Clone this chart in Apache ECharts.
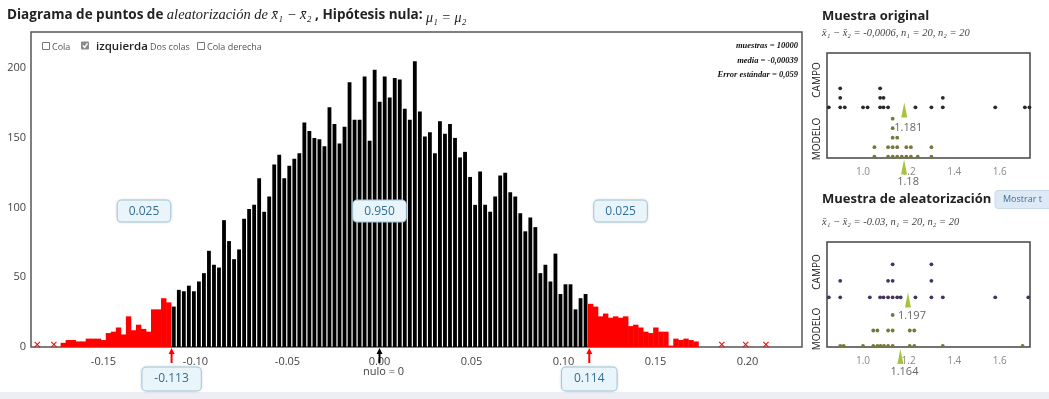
<!DOCTYPE html>
<html><head><meta charset="utf-8">
<script src="https://cdn.jsdelivr.net/npm/echarts@6/dist/echarts.min.js"></script>
<style>html,body{margin:0;padding:0;background:#fff}#c{width:1049px;height:399px}</style>
</head><body><div id="c"></div><script>
// ---------------- data ----------------
const binStart = -0.1118;      // centre of first (black) bin
const binWidth = 0.002729;
// left red tail, bins k=-22..-1
const leftTailCounts = [3,5,5,4,4,6,6,6,5,10,11,14,9,22,12,16,13,11,27,27,35,32];
// middle (black) bins, k=0..82
const middleCounts = [29,41,40,44,40,47,53,69,59,57,
  91,76,63,70,92,99,102,121,97,108,
  131,138,121,130,135,139,161,155,150,149,
  144,172,160,146,158,190,163,163,194,148,
  199,176,194,179,193,192,171,163,205,169,
  151,154,139,162,153,160,150,136,140,122,
  102,126,102,97,108,123,125,111,108,96,
  83,93,86,53,59,47,67,38,45,45,
  27,35,38];
// right red tail, bins k=83..104
const rightTailCounts = [31,29,22,24,21,22,21,22,15,16,14,11,10,14,11,11,1,6,5,6,5,4];
// isolated single values drawn as x marks
const outlierValues = [-0.186,-0.177,0.186,0.199,0.210];

const xTicks = [-0.15,-0.10,-0.05,0.00,0.05,0.10,0.15,0.20];
const yTicks = [0,50,100,150,200];
const cutValues = [-0.113, 0.114];
const cutLabels = ['-0.113','0.114'];
const nullValue = 0;
const regionLabels = ['0.025','0.950','0.025'];
const regionLabelX = [-0.128, 0.0, 0.131];
const statLines = ['muestras = 10000','media = -0,00039','Error estándar = 0,059'];

// dot plots
const dotTicks = [1.0,1.2,1.4,1.6];
const origCampo = [0.85,0.90,0.90,0.90,0.92,1.00,1.02,1.075,1.075,1.075,1.09,1.09,1.11,1.23,1.30,1.35,1.35,1.58,1.71,1.73];
const origModelo = [1.05,1.05,1.11,1.11,1.13,1.13,1.13,1.13,1.13,1.15,1.15,1.15,1.17,1.19,1.19,1.21,1.21,1.24,1.30,1.30];
const origMeans = [1.181, 1.18];   // campo, modelo
const randCampo = [0.85,0.90,0.90,1.03,1.075,1.09,1.11,1.11,1.13,1.13,1.13,1.15,1.165,1.23,1.30,1.30,1.30,1.35,1.58,1.725];
const randModelo = [0.90,0.915,1.00,1.045,1.045,1.063,1.063,1.077,1.092,1.11,1.11,1.13,1.13,1.13,1.205,1.205,1.225,1.225,1.35,1.70];
const randMeans = [1.197, 1.164];

// ---------------- build ----------------
const hist = [];
leftTailCounts.forEach((c,i)=>hist.push([binStart+(i-leftTailCounts.length)*binWidth, c, 1]));
middleCounts.forEach((c,i)=>hist.push([binStart+i*binWidth, c, 0]));
rightTailCounts.forEach((c,i)=>hist.push([binStart+(middleCounts.length+i)*binWidth, c, 1]));

function renderBar(params, api){
  const x = api.value(0), y = api.value(1), red = api.value(2);
  const p0 = api.coord([x - binWidth/2, y]);
  const p1 = api.coord([x + binWidth/2, 0]);
  let l = p0[0], r = p1[0];
  if (red) { l -= 0.2; r += 0.2; } else { l += 0.6; r -= 0.6; }
  return {type:'rect', shape:{x:l, y:p0[1], width:r-l, height:p1[1]-p0[1]},
          style:{fill: red ? '#ff0000' : '#000'}};
}
function stackDots(vals, base, step){
  const seen = {};
  return vals.map(v=>{const k=v.toFixed(3); const l=seen[k]||0; seen[k]=l+1; return [v, base+l*step];});
}
const FONT = 'Open Sans';
const SERIF = 'Liberation Serif';
const XMARK = 'path://M0,1.2 L1.2,0 L5,3.8 L8.8,0 L10,1.2 L6.2,5 L10,8.8 L8.8,10 L5,6.2 L1.2,10 L0,8.8 L3.8,5 Z';
const ARROW = 'path://M3,0 L6,6 L4,6 L4,15 L2,15 L2,6 L0,6 Z';
const HIDE = {color:'transparent', opacity:1};

const boxLabel = (pad)=>({show:true, position:'inside', formatter:p=>p.data[2], color:'#2f6f96', opacity:1,
  fontFamily:FONT, fontSize:12, backgroundColor:'#eaf5fb', borderColor:'#a8cfe4', borderWidth:1,
  borderRadius:4, padding:pad, shadowColor:'rgba(0,0,0,0.12)', shadowBlur:3});

function dotAxes(grid){
  return {
    x: {type:'value', gridIndex:grid, min:0.842, max:1.7325, axisLine:{show:false}, axisTick:{show:false},
        splitLine:{show:false}, axisLabel:{customValues:dotTicks, formatter:v=>v.toFixed(1), color:'#888', fontSize:10, margin:9, fontFamily:FONT}},
    y: {type:'value', gridIndex:grid, min:0, max:105, show:false}
  };
}
const d1 = dotAxes(1), d2 = dotAxes(2);

const meanSeries = (xi, pts, labels) => ([
  {type:'scatter', xAxisIndex:xi, yAxisIndex:xi, clip:false, symbol:'triangle', symbolSize:[6,15],
   itemStyle:{color:'#a6c43a', opacity:1}, data:pts, z:5, silent:true},
  {type:'scatter', xAxisIndex:xi, yAxisIndex:xi, clip:false, symbolSize:1, itemStyle:HIDE,
   data:labels, z:6, silent:true,
   label:{show:true, position:'inside', offset:[4,0], formatter:p=>p.data[2], color:'#666', fontSize:11, fontFamily:FONT}}
]);

const option = {
  animation:false,
  backgroundColor:'#fff',
  grid:[
    {left:31, top:32, width:771, height:315, show:true, borderColor:'#555', borderWidth:1.5},
    {left:827, top:53, width:203, height:105, show:true, borderColor:'#444', borderWidth:1.5},
    {left:827, top:242, width:203, height:105, show:true, borderColor:'#444', borderWidth:1.5}
  ],
  xAxis:[
    {type:'value', gridIndex:0, min:-0.1894, max:0.2296, axisLine:{show:false}, axisTick:{show:false}, splitLine:{show:false},
     axisLabel:{customValues:xTicks, formatter:v=>v.toFixed(2), color:'#444', fontSize:11, margin:9, fontFamily:FONT}},
    d1.x, d2.x
  ],
  yAxis:[
    {type:'value', gridIndex:0, min:0, max:226, axisLine:{show:false}, axisTick:{show:false}, splitLine:{show:false},
     axisLabel:{customValues:yTicks, color:'#444', fontSize:11, margin:5, fontFamily:FONT}},
    d1.y, d2.y
  ],
  series:[
    {type:'custom', xAxisIndex:0, yAxisIndex:0, renderItem:renderBar, data:hist, encode:{x:0,y:1}, silent:true},
    {type:'scatter', xAxisIndex:0, yAxisIndex:0, symbol:XMARK, symbolSize:6, itemStyle:{color:'#ff0000', opacity:1},
     data:outlierValues.map(v=>[v,1.8]), silent:true},
    {type:'scatter', xAxisIndex:0, yAxisIndex:0, clip:false, symbol:ARROW, symbolSize:[6,15], itemStyle:{color:'#ff0000', opacity:1},
     data:cutValues.map(v=>[v,-6.1]), silent:true, z:4},
    {type:'scatter', xAxisIndex:0, yAxisIndex:0, clip:false, symbol:ARROW, symbolSize:[6,15], itemStyle:{color:'#000', opacity:1},
     data:[[nullValue,-6.1]], silent:true, z:4},
    {type:'scatter', xAxisIndex:0, yAxisIndex:0, clip:false, symbolSize:1, itemStyle:HIDE, silent:true, z:6,
     data:cutValues.map((v,i)=>[v,-23,cutLabels[i]]), label:boxLabel([6,12,5,12])},
    {type:'scatter', xAxisIndex:0, yAxisIndex:0, clip:false, symbolSize:1, itemStyle:HIDE, silent:true, z:6,
     data:regionLabelX.map((v,i)=>[v,97.5,regionLabels[i]]), label:boxLabel([5,11,4,11])},
    {type:'scatter', xAxisIndex:0, yAxisIndex:0, clip:false, symbolSize:1, itemStyle:HIDE, silent:true, z:6,
     data:[[nullValue,-18,'nulo = 0']], label:{show:true, position:'inside', offset:[4,0], formatter:p=>p.data[2], color:'#444', fontSize:11, fontFamily:FONT}},
    // original sample dots
    {type:'scatter', xAxisIndex:1, yAxisIndex:1, symbolSize:3.8, itemStyle:{color:'#2a2a2a', opacity:1}, data:stackDots(origCampo,50.7,9.5), silent:true},
    {type:'scatter', xAxisIndex:1, yAxisIndex:1, symbolSize:3.8, itemStyle:{color:'#77773a', opacity:1}, data:stackDots(origModelo,1.3,9.5), silent:true},
    ...meanSeries(1, [[origMeans[0],48],[origMeans[1],-9]], [[origMeans[0],30,'1.181'],[origMeans[1],-24,'1.18']]),
    // randomization sample dots
    {type:'scatter', xAxisIndex:2, yAxisIndex:2, symbolSize:3.8, itemStyle:{color:'#45335f', opacity:1}, data:stackDots(randCampo,49.7,16.5), silent:true},
    {type:'scatter', xAxisIndex:2, yAxisIndex:2, symbolSize:3.8, itemStyle:{color:'#77773a', opacity:1}, data:stackDots(randModelo,1,15.5), silent:true},
    ...meanSeries(2, [[randMeans[0],47],[randMeans[1],-9.5]], [[randMeans[0],31,'1.197'],[randMeans[1],-25,'1.164']])
  ],
  graphic:[
    {type:'rect', shape:{x:0,y:392,width:1049,height:7}, style:{fill:'#eceef3'}, silent:true},
    {type:'text', x:7, y:15, style:{
      text:'{b|Diagrama de puntos de }{i|aleatorización de x̄₁ − x̄₂}{b| , Hipótesis nula: }{s|μ₁ = μ₂}',
      verticalAlign:'middle',
      rich:{
        b:{fontFamily:FONT, fontWeight:'bold', fontSize:13.5, fill:'#222'},
        i:{fontFamily:SERIF, fontStyle:'italic', fontSize:14.5, fill:'#222'},
        s:{fontFamily:SERIF, fontStyle:'italic', fontSize:14, fill:'#222', padding:[6,0,0,0]}
      }}},
    // checkbox row
    {type:'rect', shape:{x:42.5,y:42.5,width:7,height:7}, style:{fill:'#fff', stroke:'#777', lineWidth:1}},
    {type:'text', x:52, y:47, style:{text:'Cola', fontFamily:FONT, fontSize:9, fill:'#555', verticalAlign:'middle'}},
    {type:'rect', shape:{x:81,y:41.5,width:8,height:8,r:1}, style:{fill:'#8a8a8a'}},
    {type:'polyline', shape:{points:[[82.8,45.5],[84.7,47.5],[87.5,43.3]]}, style:{stroke:'#fff', lineWidth:1.4, fill:null}},
    {type:'text', x:96, y:46.5, style:{text:'izquierda', fontFamily:FONT, fontWeight:600, fontSize:11.5, fill:'#222', verticalAlign:'middle'}},
    {type:'text', x:150, y:47, style:{text:'Dos colas', fontFamily:FONT, fontSize:9, fill:'#555', verticalAlign:'middle'}},
    {type:'rect', shape:{x:197.5,y:42.5,width:7,height:7}, style:{fill:'#fff', stroke:'#777', lineWidth:1}},
    {type:'text', x:207, y:47, style:{text:'Cola derecha', fontFamily:FONT, fontSize:9, fill:'#555', verticalAlign:'middle'}},
    // stats
    ...statLines.map((t,i)=>({type:'text', x:798, y:46+i*14.5, style:{text:t, fontFamily:SERIF, fontStyle:'italic', fontWeight:'bold',
       fontSize:8.5, fill:'#111', align:'right', verticalAlign:'middle'}})),
    // right panels
    {type:'text', x:822, y:16, style:{text:'Muestra original', fontFamily:FONT, fontWeight:'bold', fontSize:13, fill:'#222', verticalAlign:'middle'}},
    {type:'text', x:822, y:33, style:{text:'x̄₁ − x̄₂ = -0,0006, n₁ = 20, n₂ = 20', fontFamily:SERIF, fontStyle:'italic', fontSize:10.5, fill:'#444', verticalAlign:'middle'}},
    {type:'text', x:822, y:199, style:{text:'Muestra de aleatorización', fontFamily:FONT, fontWeight:'bold', fontSize:13, fill:'#222', verticalAlign:'middle'}},
    {type:'rect', shape:{x:995,y:190.5,width:60,height:18,r:3}, style:{fill:'#dde9f4', stroke:'#c9dbeb', lineWidth:1}},
    {type:'text', x:1003, y:199.5, style:{text:'Mostrar t', fontFamily:FONT, fontSize:9, fill:'#3b6fa0', verticalAlign:'middle'}},
    {type:'text', x:822, y:222, style:{text:'x̄₁ − x̄₂ = -0.03, n₁ = 20, n₂ = 20', fontFamily:SERIF, fontStyle:'italic', fontSize:10.5, fill:'#444', verticalAlign:'middle'}},
    {type:'text', x:817, y:80, rotation:Math.PI/2, style:{text:'CAMPO', fontFamily:FONT, fontSize:10, fill:'#222', align:'center', verticalAlign:'middle'}},
    {type:'text', x:817, y:139, rotation:Math.PI/2, style:{text:'MODELO', fontFamily:FONT, fontSize:10, fill:'#222', align:'center', verticalAlign:'middle'}},
    {type:'text', x:817, y:272, rotation:Math.PI/2, style:{text:'CAMPO', fontFamily:FONT, fontSize:10, fill:'#222', align:'center', verticalAlign:'middle'}},
    {type:'text', x:817, y:329, rotation:Math.PI/2, style:{text:'MODELO', fontFamily:FONT, fontSize:10, fill:'#222', align:'center', verticalAlign:'middle'}}
  ]
};
const chart = echarts.init(document.getElementById('c'), null, {renderer:'canvas'});
chart.setOption(option);
</script></body></html>
